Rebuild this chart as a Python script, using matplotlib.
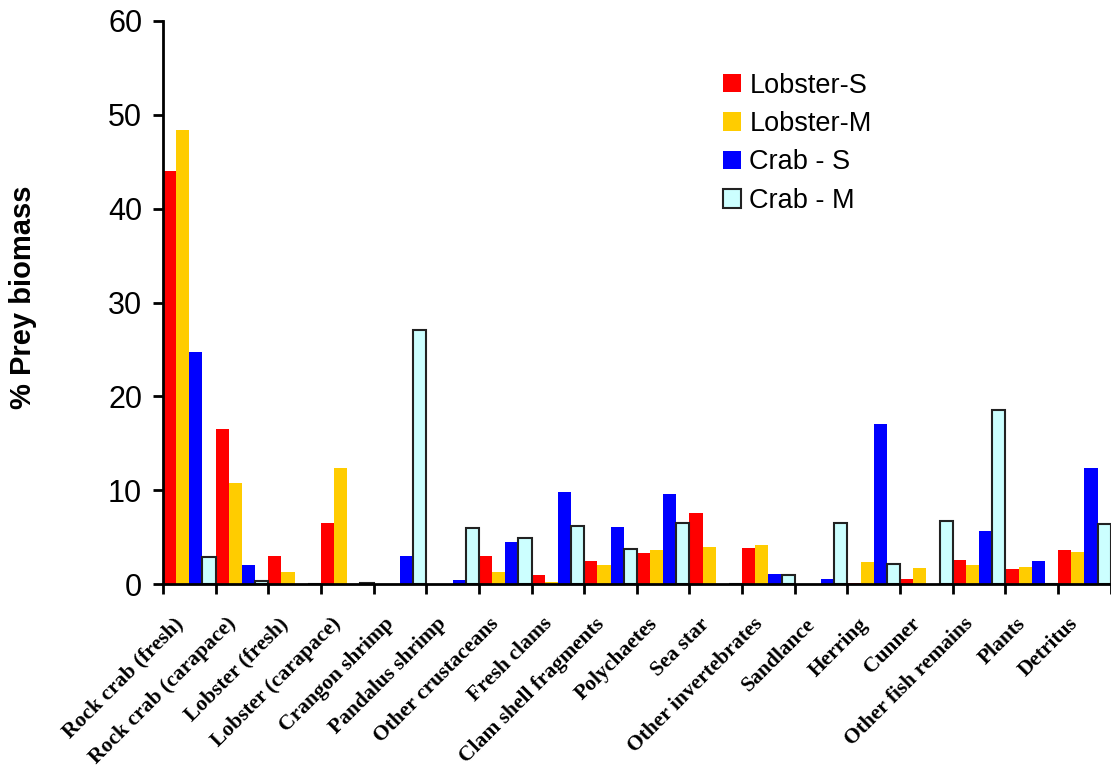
import numpy as np
import matplotlib.pyplot as plt
from matplotlib.transforms import ScaledTranslation

categories = ["Rock crab (fresh)", "Rock crab (carapace)", "Lobster (fresh)",
              "Lobster (carapace)", "Crangon shrimp", "Pandalus shrimp",
              "Other crustaceans", "Fresh clams", "Clam shell fragments",
              "Polychaetes", "Sea star", "Other invertebrates", "Sandlance",
              "Herring", "Cunner", "Other fish remains", "Plants", "Detritus"]

lobster_s = [44.0, 16.5, 3.0, 6.5, 0, 0, 3.0, 1.0, 2.45, 3.3, 7.6, 3.8, 0, 0.15, 0.55, 2.6, 1.6, 3.6]
lobster_m = [48.4, 10.8, 1.25, 12.4, 0, 0, 1.25, 0.25, 2.0, 3.6, 3.9, 4.2, 0, 2.3, 1.7, 2.0, 1.85, 3.45]
crab_s = [24.7, 2.0, 0, 0, 3.0, 0.4, 4.5, 9.8, 6.1, 9.6, 0, 1.1, 0.55, 17.0, 0, 5.7, 2.5, 12.4]
crab_m = [2.85, 0.35, 0, 0.1, 27.1, 6.0, 4.9, 6.2, 3.7, 6.5, 0, 0.95, 6.5, 2.1, 6.7, 18.5, 0, 6.4]

series = [("Lobster-S", lobster_s, "#FF0000"),
          ("Lobster-M", lobster_m, "#FFCC00"),
          ("Crab - S", crab_s, "#0000FF"),
          ("Crab - M", crab_m, "#CCFFFF")]

fig = plt.figure(figsize=(11.11, 7.72), dpi=100)
ax = fig.add_axes([0.1467, 0.2435, 0.853, 0.7293])

x = np.arange(len(categories))
w = 0.25
for i, (name, vals, col) in enumerate(series):
    if name == "Crab - M":
        ax.bar(x - 0.5 + w * (i + 0.5), vals, w, color=col, edgecolor="#222222",
               linewidth=1.5, label=name)
    else:
        ax.bar(x - 0.5 + w * (i + 0.5), vals, w, color=col, label=name)

ax.set_xlim(-0.5, len(categories) - 0.5)
ax.set_ylim(0, 60)
ax.set_yticks(range(0, 61, 10))
ax.tick_params(axis="y", labelsize=22, width=2, length=7, direction="out", pad=8)
for t in ax.get_yticklabels():
    t.set_family("Liberation Sans")

ax.set_xticks(x)
ax.set_xticklabels(categories, rotation=45, ha="right", rotation_mode="anchor",
                   family="Liberation Serif", fontweight="bold", fontsize=15.5)
ax.tick_params(axis="x", which="major", length=0, pad=18)
ax.set_xticks(np.arange(len(categories) + 1) - 0.5, minor=True)
ax.tick_params(axis="x", which="minor", length=7, width=2)
shift = ScaledTranslation(-16 / 100, -5 / 100, fig.dpi_scale_trans)
for t in ax.get_xticklabels():
    t.set_transform(t.get_transform() + shift)

for s in ["top", "right"]:
    ax.spines[s].set_visible(False)
for s in ["left", "bottom"]:
    ax.spines[s].set_linewidth(2)

ax.set_ylabel("% Prey biomass", family="Liberation Sans", fontweight="bold",
              fontsize=21)
ax.yaxis.set_label_coords(-0.133, 0.51)

fig.legend(loc="upper left", bbox_to_anchor=(0.6508, 0.906), frameon=False,
           prop={"family": "Liberation Sans", "size": 19.5},
           handlelength=0.67, handleheight=0.67, handletextpad=0.3,
           labelspacing=0.46, borderpad=0, borderaxespad=0)

fig.savefig("out.png", dpi=100)
